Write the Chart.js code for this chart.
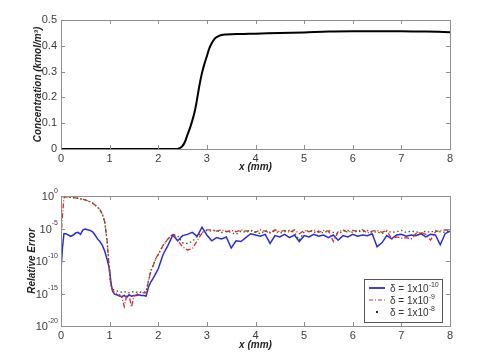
<!DOCTYPE html>
<html>
<head>
<meta charset="utf-8">
<script src="https://cdn.jsdelivr.net/npm/chart.js@4/dist/chart.umd.min.js"></script>
<style>
  body { margin: 0; background: #fff; }
  #c1 { position: absolute; left: 0; top: 0; }
  #c2 { position: absolute; left: 0; top: 175px; }
</style>
</head>
<body>
<canvas id="c1" width="478" height="175"></canvas>
<canvas id="c2" width="478" height="183"></canvas>
<script>
// top plot: concentration profile
const concX = [0, 0.5, 1, 1.5, 2, 2.3, 2.4, 2.45, 2.5, 2.55, 2.6, 2.65, 2.7, 2.75, 2.8, 2.85, 2.9, 2.95, 3.0, 3.05, 3.1, 3.15, 3.2, 3.3, 3.4, 3.5, 3.75, 4, 4.5, 5, 5.5, 6, 6.5, 7, 7.5, 8];
const concY = [0, 0, 0, 0, 0, 0, 0, 0.004, 0.012, 0.028, 0.055, 0.08, 0.11, 0.145, 0.195, 0.25, 0.295, 0.33, 0.36, 0.39, 0.41, 0.425, 0.434, 0.442, 0.444, 0.445, 0.446, 0.447, 0.45, 0.452, 0.455, 0.456, 0.456, 0.456, 0.455, 0.453];
const xTicks = [0, 1, 2, 3, 4, 5, 6, 7, 8];
const concTicks = [0, 0.1, 0.2, 0.3, 0.4, 0.5];

// bottom plot: relative error, values are log10
const errX = [0, 0.03, 0.06, 0.1, 0.15, 0.2, 0.25, 0.3, 0.35, 0.4, 0.45, 0.5, 0.55, 0.6, 0.65, 0.7, 0.75, 0.8, 0.85, 0.9, 0.95,
  1.0, 1.03, 1.06, 1.1, 1.15, 1.2, 1.25, 1.3, 1.35, 1.4, 1.45, 1.5, 1.55, 1.6, 1.65, 1.7, 1.75, 1.8, 1.85, 1.9, 1.95,
  2.0, 2.1, 2.2, 2.3, 2.4, 2.5, 2.6, 2.7, 2.8, 2.9, 3.0, 3.1, 3.2, 3.3, 3.4, 3.5, 3.6, 3.7, 3.8, 3.9,
  4.0, 4.1, 4.2, 4.3, 4.4, 4.5, 4.6, 4.7, 4.8, 4.9, 5.0, 5.1, 5.2, 5.3, 5.4, 5.5, 5.6, 5.7, 5.8, 5.9,
  6.0, 6.1, 6.2, 6.3, 6.4, 6.5, 6.6, 6.7, 6.8, 6.9, 7.0, 7.1, 7.2, 7.3, 7.4, 7.5, 7.6, 7.7, 7.8, 7.9, 8.0];
const errBlue = [-11.4, -8.0, -5.8, -5.8, -6.0, -6.2, -6.0, -5.7, -5.6, -5.9, -5.2, -5.1, -5.2, -5.3, -5.5, -6.0, -6.6, -7.0, -7.6, -8.5, -9.8,
  -11.4, -13.5, -14.6, -15.1, -15.2, -15.4, -15.5, -15.3, -15.6, -15.2, -15.4, -15.3, -15.3, -15.2, -15.3, -15.3, -15.4, -14.0, -13.2, -12.6, -11.9,
  -11.2, -9.0, -7.6, -6.0, -6.9, -6.1, -5.9, -5.6, -6.2, -4.8, -6.0, -6.9, -6.4, -6.6, -6.3, -8.0, -6.9, -7.0, -6.4, -5.8,
  -6.0, -6.2, -5.9, -7.3, -6.1, -6.3, -5.9, -6.4, -6.0, -7.0, -6.1, -6.3, -5.9, -6.2, -6.0, -6.4, -6.0, -6.8, -6.1, -6.3,
  -5.9, -6.2, -6.0, -6.1, -5.8, -7.8, -7.2, -6.1, -6.6, -6.0, -5.9, -6.2, -6.0, -6.1, -5.8, -6.3, -5.9, -6.0, -7.5, -5.8, -5.4];
const errRed = [-6.5, -3.0, -0.3, -0.1, -0.15, -0.2, -0.25, -0.3, -0.35, -0.45, -0.5, -0.6, -0.75, -0.9, -1.1, -1.4, -1.7, -2.1, -2.8, -4.0, -7.0,
  -12.0, -14.0, -14.5, -14.8, -15.0, -15.2, -15.6, -17.0, -15.4, -15.3, -17.1, -15.4, -15.2, -14.9, -14.8, -14.9, -14.9, -13.0, -11.5, -10.6, -9.6,
  -9.0, -7.6, -6.6, -5.8, -6.8, -7.8, -8.3, -8.1, -6.9, -5.7, -5.2, -5.2, -5.4, -5.2, -5.5, -5.3, -5.5, -5.2, -5.4, -5.3,
  -5.6, -5.2, -5.4, -5.7, -5.2, -5.5, -5.3, -5.6, -5.2, -5.8, -5.3, -5.5, -5.2, -5.6, -5.3, -5.4, -7.0, -5.5, -5.2, -5.6,
  -5.3, -5.4, -5.2, -5.7, -5.4, -5.3, -5.6, -5.3, -6.6, -6.3, -6.5, -6.4, -6.6, -5.8, -5.6, -5.9, -6.8, -5.5, -5.3, -5.2, -5.3];
const errGreen = [-0.2, -0.1, -0.1, -0.1, -0.15, -0.2, -0.25, -0.3, -0.35, -0.45, -0.5, -0.6, -0.75, -0.9, -1.1, -1.4, -1.7, -2.1, -2.8, -4.0, -7.0,
  -12.0, -13.8, -14.3, -14.5, -14.6, -14.7, -14.8, -14.7, -14.8, -14.9, -14.8, -14.7, -14.8, -14.7, -14.8, -14.8, -14.7, -13.0, -11.5, -10.6, -9.6,
  -9.0, -7.6, -6.6, -5.9, -6.1, -7.2, -7.3, -7.0, -6.2, -5.6, -5.3, -5.4, -5.3, -5.6, -5.4, -5.6, -5.9, -5.4, -5.6, -5.3,
  -5.5, -5.8, -5.3, -5.6, -5.4, -5.7, -5.5, -5.3, -5.6, -6.8, -5.5, -5.3, -5.6, -5.4, -5.7, -5.3, -5.6, -5.8, -5.4, -5.3,
  -5.6, -5.4, -5.5, -5.3, -5.6, -5.5, -5.8, -5.4, -5.6, -5.5, -5.3, -5.6, -5.4, -5.5, -5.7, -5.4, -5.6, -5.3, -5.5, -5.6, -5.3];
const errTicks = [1e-20, 1e-15, 1e-10, 1e-5, 1];
const errTickExp = ['-20', '-15', '-10', '-5', '0'];
const serieNames = ['1x10', '1x10', '1x10'];
const serieExp = ['-10', '-9', '-8'];
const serieColors = ['#2b2bd9', '#e3262b', '#3f6a25'];

const fuente = '"Liberation Sans", Arial, sans-serif';
const tickColor = '#3a3a3a';

// box with inward ticks on all four sides, like the matlab figure
const marcoPlugin = {
  id: 'marco',
  afterDatasetsDraw(chart) {
    const ctx = chart.ctx;
    const a = chart.chartArea;
    const sx = chart.scales.x, sy = chart.scales.y;
    ctx.save();
    ctx.strokeStyle = '#8e8e8e';
    ctx.lineWidth = 1;
    ctx.strokeRect(Math.round(a.left) + 0.5, Math.round(a.top) + 0.5, Math.round(a.width), Math.round(a.height));
    ctx.beginPath();
    sx.ticks.forEach(t => {
      const p = Math.round(sx.getPixelForValue(t.value)) + 0.5;
      ctx.moveTo(p, a.bottom); ctx.lineTo(p, a.bottom - 4);
      ctx.moveTo(p, a.top); ctx.lineTo(p, a.top + 4);
    });
    sy.ticks.forEach(t => {
      const p = Math.round(sy.getPixelForValue(t.value)) + 0.5;
      ctx.moveTo(a.left, p); ctx.lineTo(a.left + 4, p);
      ctx.moveTo(a.right, p); ctx.lineTo(a.right - 4, p);
    });
    ctx.stroke();
    ctx.restore();
  }
};

// log tick labels "10" with a raised exponent
const etiquetasLog = {
  id: 'etiquetasLog',
  afterDraw(chart) {
    const ctx = chart.ctx;
    const a = chart.chartArea;
    const sy = chart.scales.y;
    ctx.save();
    ctx.fillStyle = tickColor;
    ctx.textBaseline = 'middle';
    errTicks.forEach((v, i) => {
      const p = sy.getPixelForValue(v);
      ctx.font = '7px ' + fuente;
      const ew = ctx.measureText(errTickExp[i]).width;
      const xe = a.left - 3 - ew;
      ctx.textAlign = 'left';
      ctx.fillText(errTickExp[i], xe, p - 5);
      ctx.font = '11px ' + fuente;
      ctx.textAlign = 'right';
      ctx.fillText('10', xe, p + 1);
    });
    ctx.restore();
  }
};

// legend drawn by hand so the exponent can be a real superscript
const leyendaPlugin = {
  id: 'leyenda',
  afterDraw(chart) {
    const ctx = chart.ctx;
    const a = chart.chartArea;
    const w = 78, h = 43;
    const x0 = a.right - 8 - w, y0 = a.bottom - 4 - h;
    ctx.save();
    ctx.fillStyle = '#fff';
    ctx.fillRect(x0, y0, w, h);
    ctx.strokeStyle = '#555';
    ctx.lineWidth = 1;
    ctx.strokeRect(Math.round(x0) + 0.5, Math.round(y0) + 0.5, w, h);
    for (let i = 0; i < 3; i++) {
      const yy = y0 + 9 + i * 12;
      ctx.strokeStyle = serieColors[i];
      ctx.fillStyle = serieColors[i];
      if (i == 0) {
        ctx.lineWidth = 1.8; ctx.setLineDash([]);
        ctx.beginPath(); ctx.moveTo(x0 + 5, yy); ctx.lineTo(x0 + 21, yy); ctx.stroke();
      } else if (i == 1) {
        ctx.lineWidth = 1.2; ctx.setLineDash([4, 2, 1, 2]);
        ctx.beginPath(); ctx.moveTo(x0 + 5, yy); ctx.lineTo(x0 + 21, yy); ctx.stroke();
      } else {
        ctx.fillStyle = '#222';
        ctx.fillRect(x0 + 12, yy - 1, 2, 2);
      }
      ctx.setLineDash([]);
      ctx.fillStyle = '#333';
      ctx.font = '10px ' + fuente;
      ctx.textBaseline = 'middle';
      const txt = 'δ = ' + serieNames[i];
      ctx.fillText(txt, x0 + 26, yy + 1);
      const tw = ctx.measureText(txt).width;
      ctx.font = '7px ' + fuente;
      ctx.fillText(serieExp[i], x0 + 26 + tw, yy - 3);
    }
    ctx.restore();
  }
};

const ejeX = function (alto, padTitulo) {
  return {
    type: 'linear', min: 0, max: 8,
    afterBuildTicks: (s) => { s.ticks = xTicks.map(v => ({ value: v })); },
    afterFit: (s) => { s.height = alto; },
    grid: { display: false, drawTicks: false }, border: { display: false },
    ticks: { color: tickColor, font: { size: 11, family: fuente }, padding: 3, maxRotation: 0 },
    title: { display: true, text: 'x (mm)', color: '#222', padding: { top: 0, bottom: padTitulo },
      font: { size: 10, weight: 'bold', style: 'italic', family: fuente } }
  };
};

new Chart(document.getElementById('c1'), {
  type: 'line',
  data: {
    datasets: [{
      data: concX.map((x, i) => ({ x: x, y: concY[i] })),
      borderColor: '#000', borderWidth: 2, pointRadius: 0, tension: 0.3
    }]
  },
  options: {
    responsive: false, animation: false, devicePixelRatio: 1,
    layout: { padding: { left: 28, right: 28, top: 20, bottom: 0 } },
    plugins: { legend: { display: false }, tooltip: { enabled: false } },
    scales: {
      x: ejeX(26, 2),
      y: {
        type: 'linear', min: 0, max: 0.5,
        afterBuildTicks: (s) => { s.ticks = concTicks.map(v => ({ value: v })); },
        afterFit: (s) => { s.width = 33; },
        grid: { display: false, drawTicks: false }, border: { display: false },
        ticks: { color: tickColor, font: { size: 11, family: fuente }, padding: 4 },
        title: { display: true, text: 'Concentration (kmol/m³)', color: '#222', padding: { top: 4, bottom: 0 },
          font: { size: 10, weight: 'bold', style: 'italic', family: fuente } }
      }
    }
  },
  plugins: [marcoPlugin]
});

const puntos = (vals) => errX.map((x, i) => ({ x: x, y: Math.pow(10, vals[i]) }));

new Chart(document.getElementById('c2'), {
  type: 'line',
  data: {
    datasets: [
      { data: puntos(errGreen), borderColor: serieColors[2], borderWidth: 1.4, borderDash: [1.5, 2.5], pointRadius: 0, tension: 0 },
      { data: puntos(errRed), borderColor: serieColors[1], borderWidth: 1.3, borderDash: [5, 2, 1, 2], pointRadius: 0, tension: 0 },
      { data: puntos(errBlue), borderColor: serieColors[0], borderWidth: 1.5, pointRadius: 0, tension: 0 }
    ]
  },
  options: {
    responsive: false, animation: false, devicePixelRatio: 1,
    layout: { padding: { left: 24, right: 28, top: 21, bottom: 0 } },
    plugins: { legend: { display: false }, tooltip: { enabled: false } },
    scales: {
      x: ejeX(32, 7),
      y: {
        type: 'logarithmic', min: 1e-20, max: 1,
        afterBuildTicks: (s) => { s.ticks = errTicks.map(v => ({ value: v })); },
        afterFit: (s) => { s.width = 37; },
        grid: { display: false, drawTicks: false }, border: { display: false },
        ticks: { display: false },
        title: { display: true, text: 'Relative Error', color: '#222', padding: { top: 2, bottom: 0 },
          font: { size: 10, weight: 'bold', style: 'italic', family: fuente } }
      }
    }
  },
  plugins: [marcoPlugin, etiquetasLog, leyendaPlugin]
});
</script>
</body>
</html>
